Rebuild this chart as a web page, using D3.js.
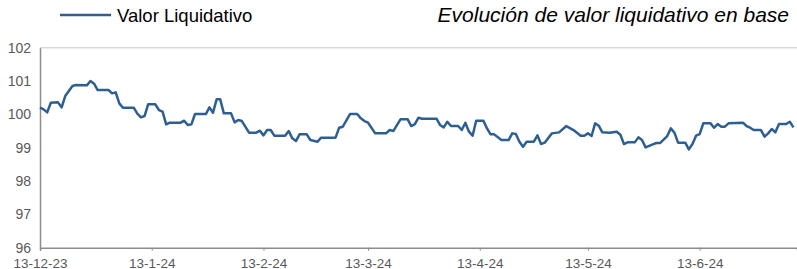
<!DOCTYPE html>
<html>
<head>
<meta charset="utf-8">
<script src="https://cdn.jsdelivr.net/npm/d3@7"></script>
<style>
  body { margin: 0; background: #fff; }
  svg { display: block; font-family: Arial, "Liberation Sans", sans-serif; }
</style>
</head>
<body>
<svg id="chart" width="797" height="269"></svg>
<script>
// datos
var fechas = [
  "2023-12-13","2023-12-14","2023-12-15","2023-12-16","2023-12-18","2023-12-19","2023-12-20","2023-12-21","2023-12-22","2023-12-23",
  "2023-12-26","2023-12-27","2023-12-28","2023-12-29","2024-01-01","2024-01-02","2024-01-03","2024-01-04","2024-01-05","2024-01-08",
  "2024-01-09","2024-01-10","2024-01-11","2024-01-12","2024-01-14","2024-01-15","2024-01-16","2024-01-17","2024-01-18","2024-01-21",
  "2024-01-22","2024-01-23","2024-01-24","2024-01-25","2024-01-28","2024-01-29","2024-01-30","2024-01-31","2024-02-01","2024-02-02",
  "2024-02-04","2024-02-05","2024-02-06","2024-02-07","2024-02-09","2024-02-11","2024-02-12","2024-02-13","2024-02-14","2024-02-15",
  "2024-02-16","2024-02-19","2024-02-20","2024-02-21","2024-02-22","2024-02-23","2024-02-25","2024-02-26","2024-02-28","2024-02-29",
  "2024-03-04","2024-03-05","2024-03-06","2024-03-08","2024-03-10","2024-03-11","2024-03-12","2024-03-13","2024-03-15","2024-03-18",
  "2024-03-19","2024-03-20","2024-03-22","2024-03-24","2024-03-25","2024-03-26","2024-03-27","2024-03-28","2024-04-01","2024-04-02",
  "2024-04-03","2024-04-04","2024-04-05","2024-04-07","2024-04-08","2024-04-09","2024-04-10","2024-04-11","2024-04-12","2024-04-14",
  "2024-04-15","2024-04-16","2024-04-17","2024-04-19","2024-04-21","2024-04-22","2024-04-23","2024-04-24","2024-04-25","2024-04-26",
  "2024-04-28","2024-04-29","2024-04-30","2024-05-01","2024-05-03","2024-05-05","2024-05-07","2024-05-09","2024-05-11","2024-05-12",
  "2024-05-13","2024-05-14","2024-05-15","2024-05-16","2024-05-17","2024-05-19","2024-05-21","2024-05-22","2024-05-23","2024-05-24",
  "2024-05-26","2024-05-27","2024-05-28","2024-05-29","2024-05-31","2024-06-01","2024-06-02","2024-06-04","2024-06-05","2024-06-06",
  "2024-06-07","2024-06-09","2024-06-10","2024-06-11","2024-06-12","2024-06-13","2024-06-14","2024-06-16","2024-06-17","2024-06-18",
  "2024-06-19","2024-06-20","2024-06-21","2024-06-25","2024-06-26","2024-06-27","2024-06-28","2024-06-30","2024-07-01","2024-07-02",
  "2024-07-03","2024-07-04","2024-07-05","2024-07-07","2024-07-08","2024-07-09"
];
var valores = [
  100.20,100.15,100.06,100.35,100.36,100.21,100.55,100.70,100.85,100.88,
  100.87,101.00,100.92,100.73,100.73,100.63,100.66,100.33,100.20,100.20,
  100.02,99.91,99.95,100.30,100.30,100.13,100.08,99.70,99.75,99.75,
  99.81,99.68,99.70,100.01,100.01,100.21,100.05,100.45,100.45,100.03,
  100.03,99.76,99.83,99.80,99.45,99.45,99.51,99.37,99.53,99.53,
  99.36,99.36,99.50,99.28,99.20,99.40,99.40,99.23,99.18,99.30,
  99.30,99.60,99.63,100.01,100.01,99.88,99.80,99.75,99.43,99.43,
  99.53,99.50,99.85,99.85,99.65,99.71,99.90,99.87,99.87,99.68,
  99.61,99.78,99.65,99.65,99.53,99.75,99.48,99.36,99.81,99.81,
  99.58,99.40,99.40,99.23,99.23,99.43,99.41,99.18,99.03,99.18,
  99.18,99.37,99.11,99.15,99.43,99.46,99.65,99.53,99.36,99.36,
  99.43,99.35,99.73,99.66,99.46,99.45,99.48,99.39,99.11,99.16,
  99.16,99.31,99.23,99.01,99.10,99.14,99.14,99.35,99.58,99.45,
  99.15,99.15,98.95,99.11,99.36,99.41,99.73,99.73,99.60,99.71,
  99.63,99.63,99.73,99.75,99.65,99.60,99.53,99.53,99.33,99.43,
  99.56,99.46,99.71,99.71,99.78,99.61
];
var ticksX = ["2023-12-13","2024-01-13","2024-02-13","2024-03-13","2024-04-13","2024-05-13","2024-06-13"];
var ticksY = [96, 97, 98, 99, 100, 101, 102];
var serie = "Valor Liquidativo";
var titulo = "Evolución de valor liquidativo en base";

var parse = d3.timeParse("%Y-%m-%d");
var fmt = function(d) { return d.getDate() + "-" + (d.getMonth() + 1) + "-" + d3.timeFormat("%y")(d); };

var datos = fechas.map(function(f, i) { return { fecha: parse(f), valor: valores[i] }; });

var svg = d3.select("#chart"),
    mIzq = 40, mDer = 797, mSup = 47.7, mInf = 247.7;

var x = d3.scaleTime()
    .domain([parse("2023-12-13"), parse("2024-07-10")])
    .range([mIzq, mDer]);
var y = d3.scaleLinear()
    .domain([96, 102])
    .range([mInf, mSup]);

// borde superior
svg.append("line")
    .attr("x1", mIzq).attr("x2", mDer)
    .attr("y1", y(102)).attr("y2", y(102))
    .attr("stroke", "#d9d9d9").attr("stroke-width", 1.5);

// eje y
var ejeY = svg.append("g")
    .attr("transform", "translate(" + mIzq + ",0)")
    .call(d3.axisLeft(y).tickValues(ticksY).tickSize(0).tickPadding(9).tickFormat(d3.format("d")));
ejeY.select(".domain").attr("stroke", "#8c8c8c").attr("stroke-width", 1.5);
ejeY.selectAll("text").attr("fill", "#595959").style("font-size", "14px");

// eje x
var ejeX = svg.append("g")
    .attr("transform", "translate(0," + mInf + ")")
    .call(d3.axisBottom(x).tickValues(ticksX.map(parse)).tickSizeOuter(0).tickSize(3).tickPadding(8).tickFormat(fmt));
ejeX.select(".domain").attr("stroke", "#8c8c8c").attr("stroke-width", 1.5);
ejeX.selectAll(".tick line").attr("stroke", "#8c8c8c");
ejeX.selectAll("text").attr("fill", "#595959").style("font-size", "13.5px");

// linea
var linea = d3.line()
    .x(function(d) { return x(d.fecha); })
    .y(function(d) { return y(d.valor); });

svg.append("path")
    .datum(datos)
    .attr("fill", "none")
    .attr("stroke", "#2e5f93")
    .attr("stroke-width", 2.5)
    .attr("stroke-linejoin", "round")
    .attr("d", linea);

// leyenda
svg.append("line")
    .attr("x1", 60).attr("x2", 111)
    .attr("y1", 15).attr("y2", 15)
    .attr("stroke", "#2e5f93").attr("stroke-width", 2.5);
svg.append("text")
    .attr("x", 117).attr("y", 21.5)
    .attr("fill", "#000")
    .style("font-size", "18.5px")
    .text(serie);

// titulo
svg.append("text")
    .attr("x", 789).attr("y", 22)
    .attr("text-anchor", "end")
    .attr("fill", "#000")
    .style("font-size", "21px")
    .style("font-style", "italic")
    .text(titulo);
</script>
</body>
</html>
